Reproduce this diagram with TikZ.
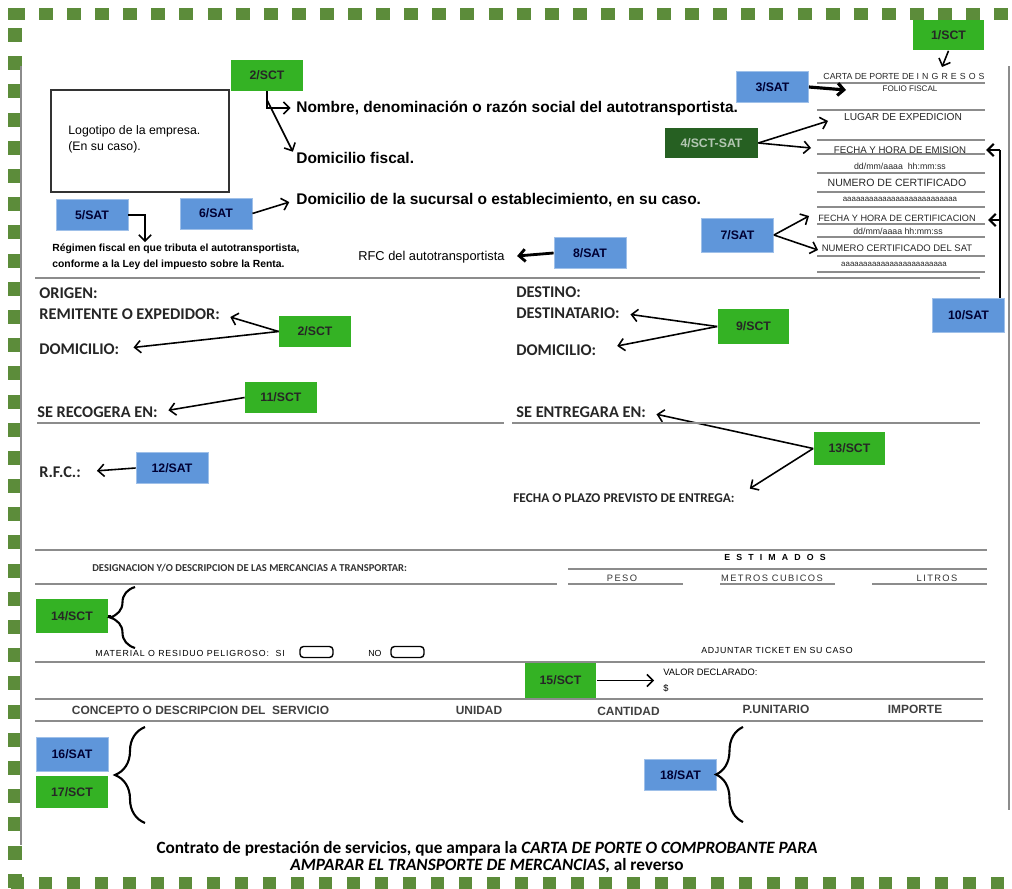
\documentclass[tikz,border=0pt]{standalone}
\usepackage{fontspec}
\setmainfont{Liberation Sans}
\newfontfamily\calfont{Carlito}
\usetikzlibrary{decorations.pathreplacing,arrows.meta,positioning}
\definecolor{sctgreen}{RGB}{52,178,36}
\definecolor{sctdark}{RGB}{38,96,34}
\definecolor{satblue}{RGB}{95,150,218}
\definecolor{framegreen}{RGB}{92,140,58}
\definecolor{rulegray}{RGB}{140,140,140}
\newcommand{\fsz}[2]{\fontsize{#1}{#2}\selectfont}

\begin{document}
\begin{tikzpicture}[x=0.02cm,y=-0.02cm,
	>={Straight Barb[length=3.5pt,width=7pt]},
	tagbox/.style={minimum width=1.44cm,minimum height=0.62cm,inner sep=0pt,font=\bfseries\fsz{7}{8}},
	sct/.style={tagbox,fill=sctgreen,text=black!85},
	sat/.style={tagbox,fill=satblue,draw=satblue!60!white,line width=0.5pt,text=black!80!blue},
	arr/.style={->,line width=0.9pt,shorten >=#1},arr/.default=2pt,
	rule/.style={draw=rulegray,line width=1.1pt},
	txt/.style={anchor=west,inner sep=0pt},
	hdtxt/.style={txt,font=\bfseries\fsz{8.8}{10}},
	frm/.style={txt,font=\calfont\bfseries\fsz{9.3}{10},text=black!85},
	fol/.style={inner sep=0pt,text=black!85},
	col/.style={inner sep=0pt,font=\bfseries\fsz{6.8}{8},text=black!75},
	colfive/.style={inner sep=0pt,font=\fsz{5.3}{6}\addfontfeature{LetterSpace=15},text=black!80},
	chk/.style={draw,line width=0.8pt,rounded corners=2pt,minimum width=0.66cm,minimum height=0.22cm,inner sep=0pt},
	brc/.style={decorate,line width=1.2pt}]
									\useasboundingbox (0,0) rectangle (1012,889);
									
									\fill[framegreen] (8,8) rectangle (25,20);
									\draw[framegreen,line width=0.25cm,dash pattern=on 0.28cm off 0.282cm] (39,14) -- (1012,14);
									\draw[framegreen,line width=0.28cm,dash pattern=on 0.28cm off 0.284cm] (15,28) -- (15,889);
									\draw[framegreen,line width=0.25cm,dash pattern=on 0.26cm off 0.3cm] (11,883) -- (1012,883);
									\draw[rulegray,line width=0.8pt] (21,66) -- (21,845);
									\draw[rulegray,line width=0.8pt] (1009,66) -- (1009,810);
									
									\node[draw=black!80,line width=1pt,minimum width=3.56cm,minimum height=2.04cm] (logo) at (140,141) {};
									\node[txt,font=\fsz{7}{9},align=left] (logotxt) at (68,139) {Logotipo de la empresa.\\(En su caso).};
									
									\node[sct] (sct2a) at (267,75.5) {2/SCT};
									\node[hdtxt] (nombre) at (296,108) {Nombre, denominación o razón social del autotransportista.};
									\node[hdtxt] (domfis) at (296,158) {Domicilio fiscal.};
									\node[hdtxt] (domsuc) at (296,200) {Domicilio de la sucursal o establecimiento, en su caso.};
									\node[sat] (sat5) at (92,215) {5/SAT};
									\node[sat] (sat6) at (216,213.5) {6/SAT};
									\node[txt,font=\bfseries\fsz{5.9}{9},align=left] (regimen) at (52,257) {Régimen fiscal en que tributa el autotransportista,\\conforme a la Ley del impuesto sobre la Renta.};
									\node[txt,font=\fsz{7.3}{8}] (rfcauto) at (358,257) {RFC del autotransportista};
									\node[sat] (sat8) at (590,253) {8/SAT};
									
									\coordinate (k2) at (267,100);
									\coordinate (c5) at (145,242);
									\draw[arr=3pt] (sct2a.south) |- (nombre.west);
									\draw[arr=4pt] (k2) -- (domfis.west);
									\draw[arr=0pt] (sat5.east) -| (c5);
									\draw[arr=4pt] (sat6.east) -- (domsuc.west);
									\draw[arr=7pt,line width=1.6pt] (sat8.west) -- (rfcauto.east);
									
									\node[sct] (sct1) at (948.5,35) {1/SCT};
									\node[sat] (sat3) at (772.5,87) {3/SAT};
									\node[sct,fill=sctdark,text=sctdark!35!white,minimum width=1.86cm] (sct4) at (711.5,143) {4/SCT-SAT};
									\node[sat,minimum height=0.68cm] (sat7) at (737.5,235) {7/SAT};
									\node[sat,minimum height=0.68cm] (sat10) at (968.5,315) {10/SAT};
									
									\node[fol,font=\fsz{5}{6}] (carta) at (904,76) {CARTA DE PORTE DE {\addfontfeature{LetterSpace=35}INGRESOS}};
									\node[fol,font=\fsz{4.6}{6}] (folio) at (910,89) {FOLIO FISCAL};
									\node[fol,font=\fsz{5.8}{6}] (lugar) at (903,117) {LUGAR DE EXPEDICION};
									\node[fol,font=\fsz{5.5}{6}] (emision) at (900,150) {FECHA Y HORA DE EMISION};
									\node[fol,font=\fsz{5}{6}] (fechaem) at (900,166) {dd/mm/aaaa\ \ hh:mm:ss};
									\node[fol,font=\fsz{6}{6}] (numcert) at (897,183) {NUMERO DE CERTIFICADO};
									\node[fol,font=\fsz{4.5}{6}] (certa) at (900,199) {aaaaaaaaaaaaaaaaaaaaaaaaaa};
									\node[fol,font=\fsz{5.2}{6}] (fechcert) at (897,218) {FECHA Y HORA DE CERTIFICACION};
									\node[fol,font=\fsz{5}{6}] (fechce) at (898,231) {dd/mm/aaaa hh:mm:ss};
									\node[fol,font=\fsz{5.4}{6}] (numsat) at (897,248) {NUMERO CERTIFICADO DEL SAT};
									\node[fol,font=\fsz{4.5}{6}] (sata) at (894,264) {aaaaaaaaaaaaaaaaaaaaaaaa};
									\foreach \y in {83,110,140,154,173,192,207,224,237,256,272}
										\draw[rule,line width=0.8pt] (817,\y) -- (985,\y);
									
									\coordinate (c1) at (942,67);
									\coordinate (c3) at (846,90);
									\coordinate (lugarin) at (828,121);
									\coordinate (emisin) at (811,148);
									\coordinate (certin) at (809,216);
									\coordinate (satin) at (818,250);
									\coordinate (up10) at (1000,150);
									\coordinate (mid10) at (1000,220);
									\coordinate (emisout) at (986,150);
									\coordinate (certout) at (988,220);
									\draw[arr=0pt] (sct1.south) -- (c1);
									\draw[arr=0pt,line width=1.8pt] (sat3.east) -- (c3);
									\draw[arr=0pt] (sct4.east) -- (lugarin);
									\draw[arr=0pt] (sct4.east) -- (emisin);
									\draw[arr=0pt] (sat7.east) -- (certin);
									\draw[arr=0pt] (sat7.east) -- (satin);
									\draw[line width=1.3pt] (sat10.north -| up10) -- (up10);
									\draw[arr=0pt,line width=1.3pt] (up10) -- (emisout);
									\draw[arr=0pt,line width=1.3pt] (mid10) -- (certout);
									
									\draw[rule] (35,278) -- (980,278);
									
									\node[frm] (origen) at (39,293) {ORIGEN:};
									\node[frm] (remit) at (39,314) {REMITENTE O EXPEDIDOR:};
									\node[frm] (domi1) at (39,349) {DOMICILIO:};
									\node[frm] (recog) at (37,412) {SE RECOGERA EN:};
									\node[frm] (rfc) at (39,472) {R.F.C.:};
									\node[sct] (sct2b) at (315,331.5) {2/SCT};
									\node[sct] (sct11) at (281,397.5) {11/SCT};
									\node[sat] (sat12) at (172,468) {12/SAT};
									\draw[arr=6pt] (sct2b.west) -- (remit.east);
									\draw[arr=8pt] (sct2b.west) -- (domi1.east);
									\draw[arr=6pt] (sct11.west) -- (recog.east);
									\draw[arr=9pt] (sat12.west) -- (rfc.east);
									
									\node[frm] (destino) at (516,292) {DESTINO:};
									\node[frm] (destin) at (516,313) {DESTINATARIO:};
									\node[frm] (domi2) at (516,350) {DOMICILIO:};
									\node[frm] (entreg) at (516,412) {SE ENTREGARA EN:};
									\node[frm,font=\calfont\bfseries\fsz{7.6}{8}] (fecha) at (513,498) {FECHA O PLAZO PREVISTO DE ENTREGA:};
									\node[sct,minimum height=0.7cm] (sct9) at (753.5,326.5) {9/SCT};
									\node[sct,minimum height=0.66cm] (sct13) at (849.5,448.5) {13/SCT};
									\draw[arr=6pt] (sct9.west) -- (destin.east);
									\draw[arr=12pt] (sct9.west) -- (domi2.east);
									\draw[arr=6pt] (sct13.west) -- (entreg.east);
									\draw[arr=10pt] (sct13.west) -- (fecha.east);
									
									\draw[rule] (37,423) -- (504,423);
									\draw[rule] (512,423) -- (980,423);
									\draw[rule] (35,550) -- (987,550);
									
									\node[txt,font=\calfont\bfseries\fsz{6}{7},text=black!80] (desig) at (92,568) {DESIGNACION Y/O DESCRIPCION DE LAS MERCANCIAS A TRANSPORTAR:};
									\node[inner sep=0pt,font=\bfseries\fsz{5}{6}\addfontfeature{LetterSpace=70}] (estim) at (775,557) {ESTIMADOS};
									\draw[rule] (568,569) -- (987,569);
									\draw[rule] (35,584) -- (557,584);
									\foreach \a/\b in {568/683,720/835,872/987}
										\draw[rule] (\a,584) -- (\b,584);
									\node[colfive] (peso) at (622,578) {PESO};
									\node[colfive] (metros) at (772,578) {METROS CUBICOS};
									\node[colfive] (litros) at (937,578) {LITROS};
									
									\node[sct,minimum height=0.68cm] (sct14) at (72,616) {14/SCT};
									\coordinate (br14) at (111,616);
									\draw[brc,decoration={brace,amplitude=0.5cm}] (135,648) -- (135,587);
									\draw[line width=1.2pt] (sct14.east) -- (br14);
									\node[txt,font=\fsz{5}{6}\addfontfeature{LetterSpace=10}] (mater) at (95,653) {MATERIAL O RESIDUO PELIGROSO:\ \ SI};
									\node[chk] (chksi) at (316.5,652) {};
									\node[txt,font=\fsz{5}{6}] (no) at (368,653) {NO};
									\node[chk] (chkno) at (407.5,652) {};
									\node[inner sep=0pt,font=\fsz{5}{6}\addfontfeature{LetterSpace=8}] (ticket) at (777,650) {ADJUNTAR TICKET EN SU CASO};
									\draw[rule] (35,662) -- (985,662);
									
									\node[sct,minimum height=0.7cm] (sct15) at (560.5,680.5) {15/SCT};
									\node[txt,font=\fsz{5.3}{6}] (valor) at (663,672) {VALOR DECLARADO:};
									\node[txt,font=\fsz{5.3}{6}] (dolar) at (663,688) {\$};
									\draw[arr=5pt] (sct15.east) -- (sct15.east -| valor.west);
									\draw[rule] (35,699) -- (983,699);
									
									\node[col] (concepto) at (200.5,710) {CONCEPTO O DESCRIPCION DEL\ \ SERVICIO};
									\node[col] (unidad) at (479,710) {UNIDAD};
									\node[col] (cantidad) at (628.5,711) {CANTIDAD};
									\node[col] (punit) at (776,709) {P.UNITARIO};
									\node[col] (importe) at (915,709) {IMPORTE};
									\draw[rule] (35,721) -- (983,721);
									
									\node[sat,minimum height=0.68cm] (sat16) at (72,754) {16/SAT};
									\node[sct,minimum height=0.64cm] (sct17) at (72,792) {17/SCT};
									\draw[brc,decoration={brace,amplitude=0.6cm}] (145,823) -- (145,727);
									\node[sat] (sat18) at (680.5,775) {18/SAT};
									\draw[brc,decoration={brace,amplitude=0.54cm}] (743,822) -- (743,727);
									
									\node[font=\calfont\bfseries\fsz{9.8}{9.8},align=center,inner sep=0pt] (contrato) at (487,857) {Contrato de prestación de servicios, que ampara la \textit{CARTA DE PORTE O COMPROBANTE PARA}\\\textit{AMPARAR EL TRANSPORTE DE MERCANCIAS}, al reverso};
\end{tikzpicture}
\end{document}
